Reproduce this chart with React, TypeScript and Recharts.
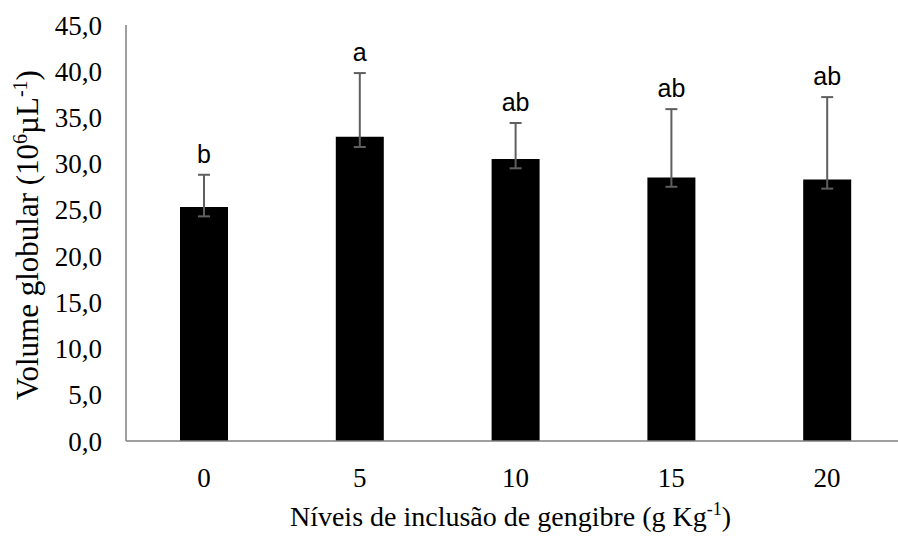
import React from 'react';
import { ComposedChart, Bar, XAxis, YAxis, ErrorBar, LabelList } from 'recharts';

const categories = ['0', '5', '10', '15', '20'];
const means = [25.3, 32.9, 30.5, 28.5, 28.3];
const errLow = [1.0, 1.1, 1.0, 1.0, 1.0];
const errHigh = [3.5, 6.9, 3.9, 7.4, 8.9];
const letters = ['b', 'a', 'ab', 'ab', 'ab'];
const yTicks = [0, 5, 10, 15, 20, 25, 30, 35, 40, 45];

const data = categories.map((name, i) => ({
  name,
  value: means[i],
  err: [errLow[i], errHigh[i]],
  letter: letters[i],
}));

const serif = '"Liberation Serif", "Times New Roman", serif';
const sans = '"Liberation Sans", Arial, sans-serif';
const axisGray = '#7f7f7f';

const LetterLabel = (props: any) => {
  const { x, y, width, height, value, index } = props;
  const pxPerUnit = height / means[index];
  const top = y - errHigh[index] * pxPerUnit;
  return (
    <text x={x + width / 2} y={top - 12} textAnchor="middle" fontFamily={sans} fontSize={25} fill="#000">
      {value}
    </text>
  );
};

const YTitle = (props: any) => {
  const vb = props.viewBox || {};
  const cy = vb.y + vb.height / 2 + 2;
  const cx = 38;
  return (
    <text
      x={cx}
      y={cy}
      transform={`rotate(-90, ${cx}, ${cy})`}
      textAnchor="middle"
      fontFamily={serif}
      fontSize={31}
      fill="#000"
    >
      Volume globular (10
      <tspan fontSize={20} dy={-11}>6</tspan>
      <tspan dy={11}>µL</tspan>
      <tspan fontSize={20} dy={-11}>-1</tspan>
      <tspan dy={11}>)</tspan>
    </text>
  );
};

const XTitle = (props: any) => {
  const vb = props.viewBox || {};
  const cx = vb.x + vb.width / 2 - 5;
  return (
    <text x={cx} y={526} textAnchor="middle" fontFamily={serif} fontSize={28} fill="#000">
      Níveis de inclusão de gengibre (g Kg
      <tspan fontSize={18} dy={-11}>-1</tspan>
      <tspan dy={11}>)</tspan>
    </text>
  );
};

export default function App() {
  return (
    <div style={{ position: 'fixed', left: 0, top: 0, width: 898, height: 536, overflow: 'hidden', background: '#fff' }}>
      <ComposedChart width={910} height={536} data={data} margin={{ top: 25, right: 5, left: 66, bottom: 0 }} barCategoryGap="34%">
        <XAxis
          dataKey="name"
          axisLine={{ stroke: axisGray, strokeWidth: 1.5 }}
          tickLine={false}
          tickSize={8}
          tickMargin={19}
          height={95}
          tick={{ fontFamily: serif, fontSize: 27, fill: '#000' }}
          label={<XTitle />}
        />
        <YAxis
          domain={[0, 45]}
          ticks={yTicks}
          interval={0}
          width={60}
          axisLine={{ stroke: axisGray, strokeWidth: 1.5 }}
          tickLine={false}
          tickSize={8}
          tickMargin={16}
          tickFormatter={(v: number) => v.toFixed(1).replace('.', ',')}
          tick={{ fontFamily: serif, fontSize: 27, fill: '#000' }}
          label={<YTitle />}
        />
        <Bar dataKey="value" fill="#000" barSize={48} isAnimationActive={false}>
          <ErrorBar dataKey="err" direction="y" width={6} strokeWidth={2} stroke="#5f5f5f" />
          <LabelList dataKey="letter" content={<LetterLabel />} />
        </Bar>
      </ComposedChart>
    </div>
  );
}
